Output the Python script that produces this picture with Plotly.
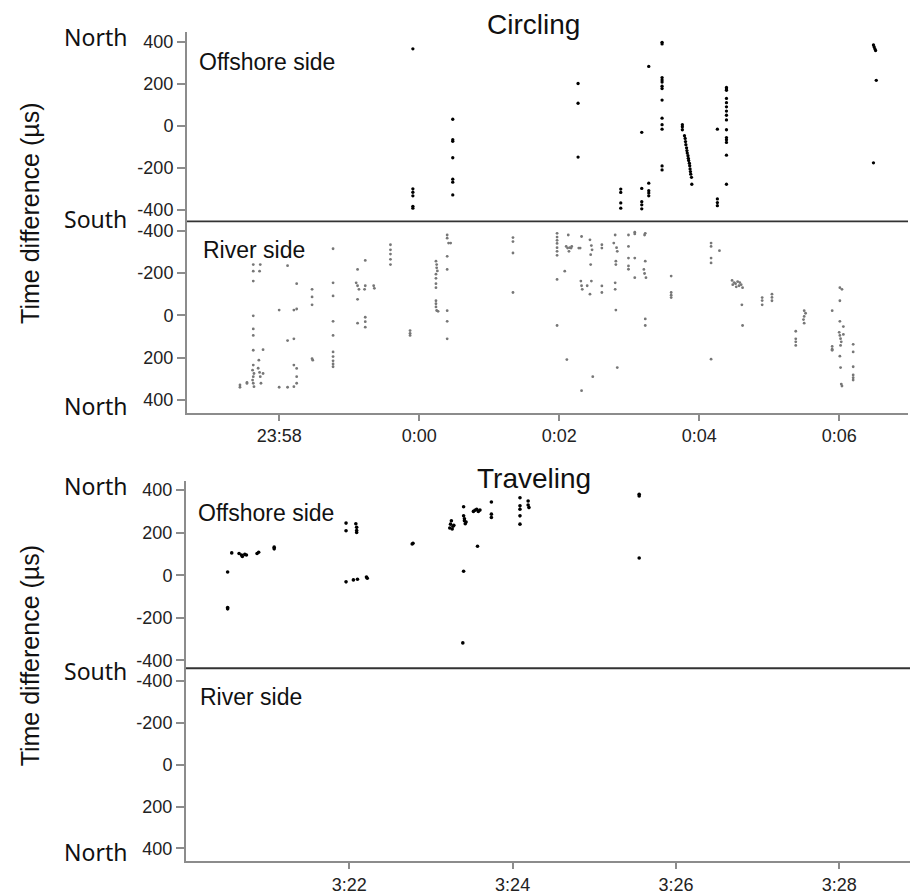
import pandas as pd
import plotly.graph_objects as go

# ---------------- data (minutes from reference time, time difference in µs) ----------------
# Circling: minutes relative to 0:00
circ_off_t = [-0.09, -0.09, -0.09, -0.09, -0.09, -0.09,
              0.48, 0.48, 0.48, 0.48, 0.48, 0.48, 0.48,
              2.27, 2.27, 2.27,
              2.88, 2.88, 2.88, 2.88,
              3.18, 3.18, 3.18, 3.18, 3.18,
              3.28, 3.28, 3.28, 3.28, 3.28,
              3.47, 3.47, 3.47, 3.47, 3.47, 3.47, 3.47, 3.47, 3.47, 3.47, 3.47, 3.47, 3.47,
              3.76, 3.76, 3.76,
              3.79, 3.80, 3.805, 3.81, 3.82, 3.825, 3.83, 3.84, 3.845, 3.85, 3.86, 3.865, 3.87, 3.875, 3.88, 3.89, 3.895,
              4.26, 4.26, 4.26, 4.26,
              4.39, 4.39, 4.39, 4.39, 4.39, 4.39, 4.39, 4.39, 4.39, 4.39, 4.39, 4.39, 4.39, 4.39, 4.39,
              6.49, 6.50, 6.51, 6.52, 6.53, 6.49]
circ_off_v = [366, -300, -316, -333, -383, -392,
              31, -66, -74, -152, -254, -268, -329,
              201, 107, -149,
              -301, -317, -367, -392,
              -31, -298, -361, -376, -395,
              282, -273, -309, -320, -333,
              397, 389, 229, 218, 208, 188, 177, 122, 36, 5, -16, -191, -210,
              5, -5, -19,
              -47, -60, -75, -90, -105, -118, -130, -142, -155, -165, -178, -190, -205, -218, -230, -245, -278,
              -16, -348, -365, -380,
              182, 175, 169, 130, 110, 90, 70, 50, 28, -19, -56, -66, -79, -140, -278,
              384, 375, 366, 358, 216, -176]

circ_riv_t = [-2.56, -2.56, -2.46, -2.46,
              -2.37, -2.37, -2.37, -2.37, -2.37, -2.37, -2.37, -2.37, -2.38, -2.36, -2.37, -2.38, -2.37, -2.36,
              -2.27, -2.28, -2.29, -2.27, -2.26, -2.30, -2.28,
              -2.23, -2.23,
              -2.00, -2.00,
              -1.88, -1.88, -1.88,
              -1.79, -1.79, -1.79, -1.79,
              -1.75, -1.75, -1.75, -1.75, -1.75,
              -1.53, -1.53, -1.53, -1.53, -1.52,
              -1.23, -1.23, -1.23, -1.23, -1.23, -1.23, -1.23, -1.23, -1.23, -1.23,
              -0.88, -0.90, -0.88, -0.86, -0.88, -0.88,
              -0.77, -0.77, -0.78, -0.77, -0.77, -0.77,
              -0.65, -0.64,
              -0.41, -0.41, -0.41, -0.41, -0.41,
              -0.13, -0.13, -0.13,
              0.24, 0.25, 0.25, 0.26, 0.24, 0.24, 0.24, 0.24, 0.24, 0.24, 0.24, 0.25, 0.27,
              0.40, 0.40, 0.42, 0.40, 0.40, 0.40, 0.40, 0.40, 0.45,
              1.34, 1.34, 1.34, 1.34,
              1.97, 1.97, 1.97, 1.97, 1.97, 1.97, 1.97, 1.97, 1.97,
              2.10, 2.12, 2.14, 2.15, 2.08, 2.11, 2.13, 2.18, 2.17,
              2.32, 2.30, 2.31, 2.32, 2.33, 2.32, 2.28,
              2.44, 2.46, 2.47, 2.45, 2.45, 2.46, 2.44, 2.48, 2.40,
              2.61, 2.61, 2.61, 2.61,
              2.80, 2.78, 2.82, 2.83, 2.81, 2.81, 2.80, 2.80, 2.81, 2.83,
              2.99, 2.99, 2.99, 2.99, 2.99,
              3.08, 3.08, 3.08, 3.08,
              3.23, 3.22, 3.23, 3.21, 3.22, 3.24, 3.23, 3.23,
              3.60, 3.60, 3.60, 3.60,
              4.17, 4.17, 4.17, 4.17, 4.17,
              4.29,
              4.47, 4.50, 4.52, 4.55, 4.57, 4.60, 4.48, 4.53, 4.58, 4.62, 4.61, 4.62,
              4.90, 4.90, 4.90,
              5.04, 5.04, 5.04,
              5.38, 5.38, 5.38, 5.38,
              5.50, 5.52, 5.50, 5.49, 5.50,
              5.90, 5.90, 5.90, 5.90,
              6.01, 6.04, 6.01, 6.01, 6.00, 6.01, 6.02, 6.03, 6.02, 6.01, 6.02, 6.03, 6.04, 6.06, 6.06,
              6.20, 6.20, 6.20, 6.20, 6.20, 6.20]
circ_riv_v = [329, 340, 317, 322,
              -240, -209, -162, 2, 64, 95, 165, 235, 259, 275, 290, 306, 321, 337,
              -240, -209, 212, 290, 321, 250, 270,
              162, 275,
              -25, 340,
              -235, 119, 340,
              -25, 111, 235, 337,
              -150, -30, 251, 290, 321,
              -123, -87, -50, 205, 212,
              -315, -154, -92, 28, 95, 173, 195, 215, 230, 243,
              -217, -154, -140, -123, -76, 37,
              -260, -140, -123, 9, 30, 56,
              -140, -128,
              -334, -310, -290, -265, -240,
              72, 85, 95,
              -256, -240, -225, -210, -195, -175, -150, -131, -69, -55, -40, -23, -19,
              -380, -365, -342, -279, -217, -22, 28, 111, -342,
              -368, -349, -295, -108,
              -388, -370, -355, -340, -320, -303, -284, -170, 48,
              -326, -318, -303, -320, -209, 209, -380, -326, -318,
              -373, -318, -162, -140, -123, 356, -318,
              -357, -330, -310, -287, -240, -162, -100, 290, -140,
              -334, -318, -139, -108,
              -380, -342, -320, -303, -256, -240, -154, -123, -25, 247,
              -380, -326, -271, -234, -218,
              -393, -385, -271, -178,
              -388, -380, -256, -217, -198, -178, 17, 48,
              -186, -108, -95, -84,
              -342, -326, -271, -248, 207,
              -306,
              -165, -155, -150, -160, -140, -145, -145, -135, -155, -131, -50, 48,
              -84, -70, -50,
              -100, -85, -69,
              75, 111, 125, 142,
              -22, -10, 5, 20, 37,
              -22, 147, 160, 165,
              -131, -123, -69, 28, 80, 95, 110, 125, 142, 193, 247, 325, 334, 53, 90,
              137, 173, 243, 282, 295, 306]

# Traveling: minutes relative to 3:20
trav_off_t = [0.51, 0.51, 0.51, 0.56, 0.65, 0.68, 0.69, 0.72, 0.74, 0.89, 0.87, 1.08, 1.08,
              1.96, 1.96, 1.96, 2.05, 2.08, 2.09, 2.09, 2.09, 2.10, 2.21, 2.22,
              2.77, 2.78,
              3.25, 3.24, 3.27, 3.26, 3.23, 3.28,
              3.40, 3.40, 3.41, 3.41, 3.43, 3.42, 3.40, 3.39,
              3.52, 3.54, 3.56, 3.58, 3.60, 3.57,
              3.74, 3.74, 3.74,
              4.09, 4.09, 4.09, 4.09, 4.09,
              4.19, 4.19, 4.20,
              5.55, 5.55, 5.55]
trav_off_v = [15, -152, -158, 105, 102, 95, 88, 98, 95, 108, 102, 132, 124,
              245, 209, -31, -22, 242, 225, 210, 201, -19, -8, -14,
              147, 150,
              256, 240, 230, 217, 222, 235,
              322, 279, 265, 256, 250, 242, 19, -318,
              300, 305, 310, 300, 306, 136,
              344, 287, 271,
              364, 326, 310, 279, 240,
              349, 330, 318,
              372, 380, 81]
trav_riv_t = []
trav_riv_v = []

y_ticks = [-400, -200, 0, 200, 400]
circ_x_ticks = ["23:58", "0:00", "0:02", "0:04", "0:06"]
trav_x_ticks = ["3:22", "3:24", "3:26", "3:28"]

circ_base = pd.Timestamp("2000-01-02 00:00:00")
trav_base = pd.Timestamp("2000-01-01 03:20:00")


def to_time(base, mins):
    return [base + pd.Timedelta(minutes=m) for m in mins]


circ_tickvals = [pd.Timestamp("2000-01-01 23:58"), pd.Timestamp("2000-01-02 00:00"),
                 pd.Timestamp("2000-01-02 00:02"), pd.Timestamp("2000-01-02 00:04"),
                 pd.Timestamp("2000-01-02 00:06")]
trav_tickvals = [pd.Timestamp("2000-01-01 03:22"), pd.Timestamp("2000-01-01 03:24"),
                 pd.Timestamp("2000-01-01 03:26"), pd.Timestamp("2000-01-01 03:28")]

# the page has an 8px body margin: the figure starts at page pixel (8, 8)
OFF = 8
W, H = 923 - OFF, 895 - OFF
fig = go.Figure()

fig.add_trace(go.Scatter(x=to_time(circ_base, circ_off_t), y=circ_off_v, mode="markers",
                         xaxis="x", yaxis="y", marker=dict(size=3.3, color="black")))
fig.add_trace(go.Scatter(x=to_time(circ_base, circ_riv_t), y=circ_riv_v, mode="markers",
                         xaxis="x", yaxis="y2", marker=dict(size=2.8, color="#777777")))
fig.add_trace(go.Scatter(x=to_time(trav_base, trav_off_t), y=trav_off_v, mode="markers",
                         xaxis="x2", yaxis="y3", marker=dict(size=3.6, color="black")))
fig.add_trace(go.Scatter(x=to_time(trav_base, trav_riv_t), y=trav_riv_v, mode="markers",
                         xaxis="x2", yaxis="y4", marker=dict(size=3, color="#777777")))

AX = "#8c8c8c"
tick_font = dict(family="Liberation Sans, Arial, sans-serif", size=18, color="#222")


def px(p):
    return (p - OFF) / W


def py(p):
    return 1 - (p - OFF) / H


def xdom(a, b):
    return [px(a), px(b)]


def ydom(top, bottom):
    return [py(bottom), py(top)]


common_y = dict(tickvals=y_ticks, ticktext=[str(v) for v in y_ticks], showline=True,
                linecolor=AX, linewidth=2, ticks="outside", ticklen=8, tickcolor=AX,
                tickwidth=1.5, showgrid=False, zeroline=False, tickfont=tick_font)
common_x = dict(type="date", showline=True, linecolor=AX, linewidth=2, ticks="outside",
                ticklen=6, tickcolor=AX, tickwidth=1.5, showgrid=False, zeroline=False,
                tickfont=tick_font)

fig.update_layout(
    width=W, height=H, margin=dict(l=0, r=0, t=0, b=0),
    paper_bgcolor="white", plot_bgcolor="white", showlegend=False,
    xaxis=dict(domain=xdom(187, 908), anchor="y2",
               range=["2000-01-01 23:56:41", "2000-01-02 00:06:59"],
               tickvals=circ_tickvals, ticktext=circ_x_ticks, **common_x),
    yaxis=dict(domain=ydom(31, 222), anchor="x", range=[-452, 447], **common_y),
    yaxis2=dict(domain=ydom(222, 416), anchor="x", range=[461, -447], **common_y),
    xaxis2=dict(domain=xdom(186, 910), anchor="y4",
                range=["2000-01-01 03:20:00", "2000-01-01 03:28:52"],
                tickvals=trav_tickvals, ticktext=trav_x_ticks, **common_x),
    yaxis3=dict(domain=ydom(485, 674), anchor="x2", range=[-437, 442], **common_y),
    yaxis4=dict(domain=ydom(674, 869), anchor="x2", range=[461, -461], **common_y),
)

# divider lines between offshore and river sides
for x0, x1, yy in [(187, 908, 222.5), (186, 910, 674)]:
    fig.add_shape(type="line", xref="paper", yref="paper", x0=px(x0), x1=px(x1),
                  y0=py(yy), y1=py(yy), line=dict(color="#333", width=1.8))

lab_font = dict(family="Liberation Sans, Arial, sans-serif", size=23, color="#111")
ns_font = dict(family="Noto Sans, sans-serif", size=23, color="#111")
ttl_font = dict(family="Liberation Sans, Arial, sans-serif", size=28, color="#111")
yt_font = dict(family="Liberation Sans, Arial, sans-serif", size=25, color="#111")


def ann(text, x, y, font, xanchor="center", yanchor="middle", angle=0):
    fig.add_annotation(text=text, x=px(x), y=py(y), xref="paper", yref="paper",
                       showarrow=False, font=font, xanchor=xanchor, yanchor=yanchor,
                       textangle=angle)


ann("Circling", 533, 24, ttl_font)
ann("Traveling", 534, 482, ttl_font)
ann("Offshore side", 197, 62, lab_font, xanchor="left")
ann("River side", 201, 251, lab_font, xanchor="left")
ann("Offshore side", 196, 517, lab_font, xanchor="left")
ann("River side", 198, 703, lab_font, xanchor="left")

for y in [36, 409, 490, 860]:
    ann("North", 129, y, ns_font, xanchor="right")
for y in [220, 677]:
    ann("South", 129, y, ns_font, xanchor="right")

ann("Time difference (µs)", 30, 215, yt_font, angle=-90)
ann("Time difference (µs)", 30, 662, yt_font, angle=-90)

fig.write_html("out.html")
